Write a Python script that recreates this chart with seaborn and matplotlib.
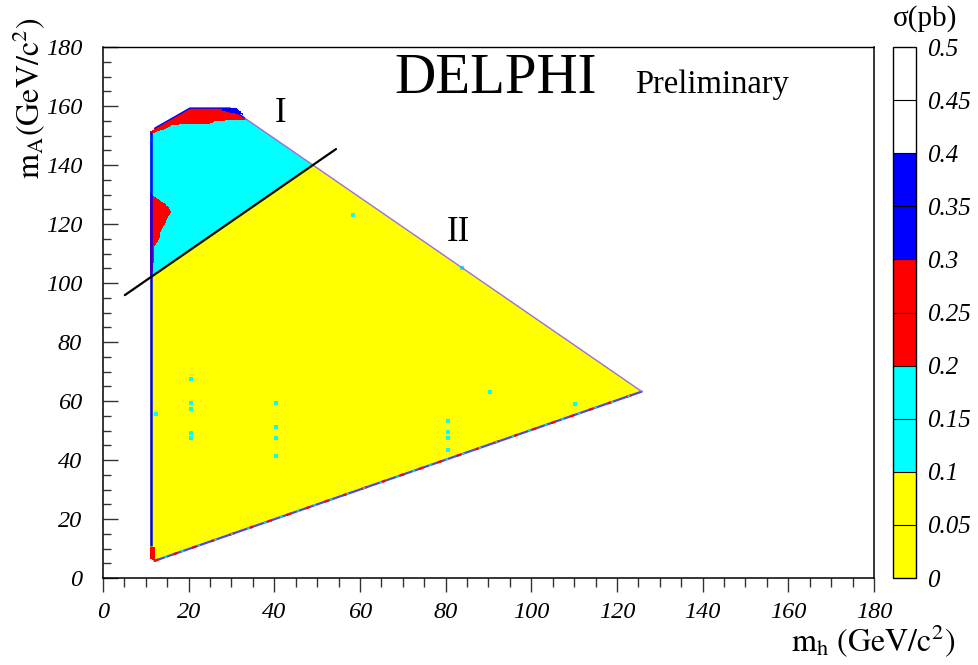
import numpy as np
import matplotlib
matplotlib.use("Agg")
import matplotlib.pyplot as plt
from matplotlib.path import Path
from matplotlib.colors import ListedColormap, BoundaryNorm
import seaborn as sns

# ---------------- data ----------------
# outer boundary of the scanned (m_h, m_A) region
envelope_x = [11.0, 12.0, 125.8, 33.0, 29.7, 20.3, 12.1, 11.0]
envelope_y = [6.5, 5.8, 63.2, 156.0, 159.3, 159.3, 152.5, 151.2]
# region I (cyan, 0.1-0.2 pb): above the separating line
cyan_x = [11.0, 49.1, 33.0, 29.7, 20.3, 12.1, 11.0]
cyan_y = [101.8, 139.9, 156.0, 159.3, 159.3, 152.5, 151.2]
# red (0.2-0.3 pb) patch at the top of region I
red_top_x = [11.0, 11.4, 14.9, 16.0, 25.0, 26.5, 32.8, 33.5, 29.7, 20.3, 12.1, 11.0]
red_top_y = [150.5, 150.7, 152.4, 153.6, 154.1, 155.0, 155.3, 155.5, 159.3, 159.3, 152.5, 151.2]
# red patch along the left edge
red_left_x = [11.0, 11.4, 13.3, 15.2, 15.8, 14.9, 13.7, 12.9, 12.1, 11.7, 11.4, 11.0]
red_left_y = [130.5, 129.8, 128.1, 125.9, 124.2, 121.4, 118.0, 114.6, 112.3, 106.7, 102.1, 102.0]
# small red patch at the bottom-left corner
red_corner_x = [11.0, 12.2, 12.2, 11.0]
red_corner_y = [6.5, 6.0, 10.5, 10.5]
# blue (0.3-0.4 pb) patch at the top
blue_top_x = [27.5, 28.1, 31.2, 32.9, 30.3]
blue_top_y = [158.6, 159.4, 159.4, 157.0, 157.6]
# cross-section assigned to each region (pb)
sigma_region = {"base": 0.07, "cyan": 0.15, "red": 0.25, "blue": 0.35}
# isolated cyan points inside region II
dots_x = [20.5, 20.5, 20.5, 20.5, 20.5, 40.5, 40.5, 40.5, 40.5, 80.6, 80.6, 80.6, 80.6, 90.4, 12.4, 110.3, 58.3, 83.8]
dots_y = [67.4, 59.4, 57.3, 49.3, 47.4, 59.2, 51.3, 47.4, 41.4, 53.3, 49.4, 47.4, 43.4, 63.2, 55.6, 59.0, 123.0, 105.0]
# separating line between regions I and II
sep_x = [5.1, 54.4]
sep_y = [95.9, 145.4]
# colour scale
levels = [0, 0.05, 0.1, 0.15, 0.2, 0.25, 0.3, 0.35, 0.4, 0.45, 0.5]
level_labels = ["0", "0.05", "0.1", "0.15", "0.2", "0.25", "0.3", "0.35", "0.4", "0.45", "0.5"]
band_colors = ["#ffff00", "#ffff00", "#00ffff", "#00ffff", "#ff0000", "#ff0000",
               "#0000ff", "#0000ff", "#ffffff", "#ffffff"]
x_ticks = [0, 20, 40, 60, 80, 100, 120, 140, 160, 180]
y_ticks = [0, 20, 40, 60, 80, 100, 120, 140, 160, 180]

# ---------------- style ----------------
sns.set_style("ticks")
plt.rcParams["font.family"] = ["Liberation Serif", "DejaVu Serif"]
plt.rcParams["mathtext.fontset"] = "stix"
for key in ["text.color", "axes.labelcolor", "xtick.color", "ytick.color", "axes.edgecolor"]:
    plt.rcParams[key] = "black"

fig = plt.figure(figsize=(9.79, 6.65), dpi=100)
ax = fig.add_axes([0.1052, 0.1308, 0.7875, 0.7985])
cax = fig.add_axes([0.912, 0.1308, 0.0235, 0.7985])

# ---------------- field ----------------
gx = np.arange(0, 130.0, 0.2)
gy = np.arange(0, 165.0, 0.2)
XX, YY = np.meshgrid(gx + 0.1, gy + 0.1)
pts = np.column_stack([XX.ravel(), YY.ravel()])

def inside(xs, ys):
    return Path(np.column_stack([xs, ys])).contains_points(pts).reshape(XX.shape)

field = np.full(XX.shape, np.nan)
field[inside(envelope_x, envelope_y)] = sigma_region["base"]
field[inside(cyan_x, cyan_y)] = sigma_region["cyan"]
field[inside(red_top_x, red_top_y)] = sigma_region["red"]
field[inside(red_left_x, red_left_y)] = sigma_region["red"]
field[inside(red_corner_x, red_corner_y)] = sigma_region["red"]
field[inside(blue_top_x, blue_top_y)] = sigma_region["blue"]
field = np.ma.masked_invalid(field)

cmap = ListedColormap(band_colors)
norm = BoundaryNorm(levels, cmap.N)
edges_x = np.append(gx, gx[-1] + 0.2)
edges_y = np.append(gy, gy[-1] + 0.2)
mesh = ax.pcolormesh(edges_x, edges_y, field, cmap=cmap, norm=norm,
                     shading="flat", rasterized=True)

# boundary strokes of the scanned region
ax.plot([envelope_x[0] + 0.1, envelope_x[0] + 0.1], [envelope_y[0] + 4.5, envelope_y[-1]],
        color="#0000ff", lw=1.8, solid_capstyle="butt")
ax.plot([envelope_x[1], envelope_x[2]], [envelope_y[1], envelope_y[2]],
        color="#4a4ae8", lw=1.6)
ax.plot([envelope_x[1], envelope_x[2]], [envelope_y[1], envelope_y[2]],
        color="#ff0000", lw=1.6, linestyle=(0, (2, 7)))
ax.plot([envelope_x[1], envelope_x[2]], [envelope_y[1], envelope_y[2]],
        color="#00e5ff", lw=1.2, linestyle=(4, (1.5, 9)))
ax.plot([envelope_x[2], envelope_x[3]], [envelope_y[2], envelope_y[3]],
        color="#9a6fd8", lw=1.0)
ax.plot(envelope_x[3:7], envelope_y[3:7], color="#0000ff", lw=1.0)

# isolated cyan points
sns.scatterplot(x=dots_x, y=dots_y, ax=ax, color="#00ffff", marker="s",
                s=6, linewidth=0, legend=False)

# separating line
sns.lineplot(x=sep_x, y=sep_y, ax=ax, color="black", lw=1.6, legend=False)

# ---------------- axes ----------------
ax.set_xlim(0, 180)
ax.set_ylim(0, 180)
ax.set_xticks(x_ticks)
ax.set_yticks(y_ticks)
ax.set_xticks(np.arange(0, 181, 5), minor=True)
ax.set_yticks(np.arange(0, 181, 5), minor=True)
ax.tick_params(axis="x", which="major", direction="out", length=10, width=1, pad=7,
               labelsize=17.5, color="#333333")
ax.tick_params(axis="x", which="minor", direction="out", length=6.5, width=1, color="#333333")
ax.tick_params(axis="y", which="major", direction="in", length=11, width=1, pad=15,
               labelsize=17.5, color="#333333")
ax.tick_params(axis="y", which="minor", direction="in", length=5.5, width=1, color="#333333")
for lab in ax.get_xticklabels() + ax.get_yticklabels():
    lab.set_fontstyle("italic")
for s in ["left", "bottom", "right"]:
    ax.spines[s].set_visible(True)
    ax.spines[s].set_linewidth(1.1)
    ax.spines[s].set_color("black")
ax.spines["top"].set_visible(True)
ax.spines["top"].set_linestyle((0, (1, 1)))
ax.spines["top"].set_linewidth(1.0)
ax.set_xlabel("")
ax.set_ylabel("")

# texts
ax.text(68.0, 164.4, "DELPHI", fontsize=41, ha="left", va="baseline")
ax.text(124.2, 164.4, "Preliminary", fontsize=23.5, ha="left", va="baseline")
ax.text(40.2, 154.6, "I", fontsize=25, ha="left", va="baseline")
ax.text(80.3, 114.2, "II", fontsize=25, ha="left", va="baseline")

fig.text(0.976, 0.021, r"$\mathrm{m_h\ (GeV/c^2)}$", fontsize=23, ha="right", va="baseline")
fig.text(0.029, 0.852, r"$\mathrm{m_A(GeV/c^2)}$", fontsize=23, ha="center", va="center",
         rotation=90)

# ---------------- colour bar ----------------
cbar = fig.colorbar(mesh, cax=cax, ticks=levels, drawedges=True)
cbar.ax.set_yticklabels(level_labels)
cbar.ax.tick_params(length=0, pad=8, labelsize=18)
for lab in cbar.ax.get_yticklabels():
    lab.set_fontstyle("italic")
cbar.outline.set_linewidth(1.0)
cbar.outline.set_edgecolor("black")
cbar.dividers.set_color("black")
cbar.dividers.set_linewidth(0.8)
fig.text(0.945, 0.972, "σ(pb)", fontsize=21, ha="center", va="center")

fig.savefig("out.png", dpi=100)
